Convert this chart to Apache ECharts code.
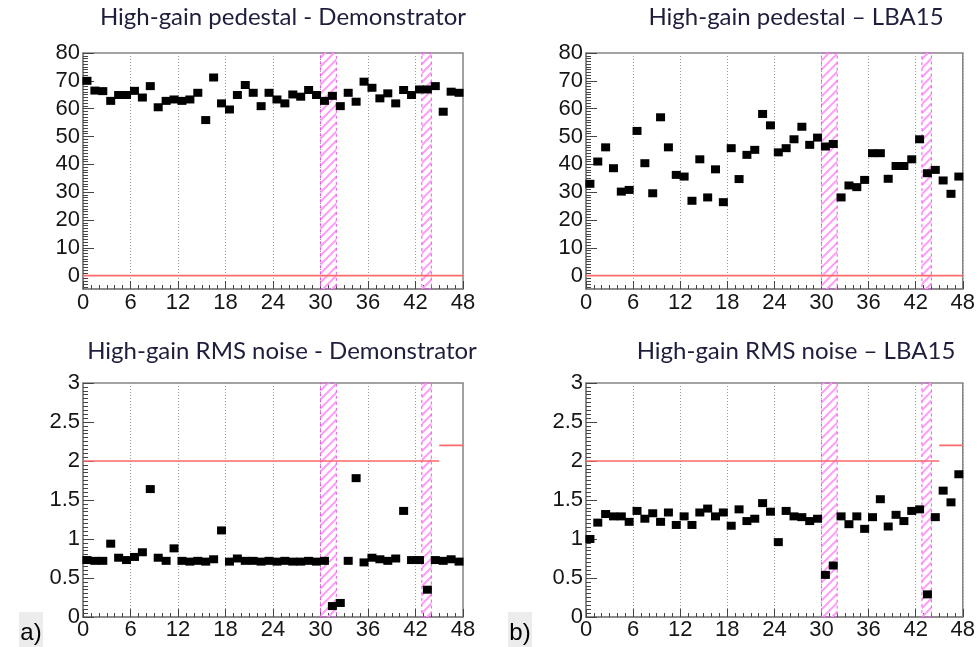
<!DOCTYPE html>
<html><head><meta charset="utf-8">
<script src="https://cdn.jsdelivr.net/npm/echarts@6/dist/echarts.min.js"></script>
<style>html,body{margin:0;padding:0;background:#fff}#c{width:978px;height:647px}</style>
</head><body><div id="c"></div>
<script>
// ---- data (channel 0..47, plotted at bin centres) ----
const demoPedestal = [70, 66.5, 66.3, 62.8, 64.9, 64.9, 66.4, 64, 68.1, 60.5, 62.8, 63.3, 62.8, 63.3, 65.7, 55.9, 71.2, 61.9, 59.7, 64.9, 68.5, 65.7, 60.9, 65.7, 63.3, 61.9, 65.1, 64.3, 66.7, 64.9, 62.8, 64.6, 60.9, 65.7, 62.5, 69.7, 67.5, 63.7, 65.5, 61.9, 66.7, 64.9, 66.9, 66.9, 68.1, 58.9, 66.1, 65.7];
const lbaPedestal = [33, 41, 46.1, 38.6, 30.2, 30.8, 52, 40.4, 29.6, 56.9, 46.1, 36.2, 35.6, 26.9, 41.8, 28.1, 38.2, 26.4, 45.8, 34.7, 43.4, 45.2, 58.1, 54, 44.3, 45.8, 49, 53.5, 47, 49.6, 46.4, 47.3, 28.1, 32.4, 31.8, 34.4, 44, 44, 34.8, 39.4, 39.4, 41.8, 49, 36.8, 38, 34.2, 29.4, 35.6];
const demoNoise = [0.73, 0.72, 0.72, 0.94, 0.76, 0.73, 0.77, 0.83, 1.64, 0.76, 0.72, 0.88, 0.72, 0.71, 0.72, 0.71, 0.74, 1.11, 0.71, 0.75, 0.72, 0.72, 0.71, 0.72, 0.71, 0.72, 0.71, 0.71, 0.72, 0.71, 0.72, 0.14, 0.18, 0.72, 1.78, 0.70, 0.76, 0.74, 0.72, 0.75, 1.36, 0.73, 0.73, 0.35, 0.73, 0.72, 0.74, 0.71];
const lbaNoise = [1.00, 1.21, 1.32, 1.29, 1.29, 1.22, 1.36, 1.26, 1.33, 1.22, 1.34, 1.18, 1.29, 1.18, 1.34, 1.39, 1.29, 1.34, 1.17, 1.38, 1.23, 1.26, 1.46, 1.35, 0.96, 1.36, 1.29, 1.28, 1.23, 1.26, 0.54, 0.66, 1.29, 1.19, 1.29, 1.13, 1.28, 1.51, 1.16, 1.31, 1.23, 1.36, 1.38, 0.29, 1.28, 1.62, 1.47, 1.83];

const channelTicks = [0, 6, 12, 18, 24, 30, 36, 42, 48];
const pedestalTicks = [0, 10, 20, 30, 40, 50, 60, 70, 80];
const noiseTicks = [0, 0.5, 1, 1.5, 2, 2.5, 3];
const pedestalLimit = [[0, 48, 0]];
const noiseLimit = [[0, 45, 2], [45, 48, 2.2]];
const maskedBands = [[30, 32], [42.8, 44]];
const titles = ['High-gain pedestal - Demonstrator', 'High-gain pedestal \u2013 LBA15', 'High-gain RMS noise - Demonstrator', 'High-gain RMS noise \u2013 LBA15'];
const tags = ['a)', 'b)'];

// ---- layout ----
const boxes = [
  {left: 83, top: 53, width: 380, height: 236},
  {left: 586, top: 53, width: 377, height: 236},
  {left: 83, top: 383, width: 380, height: 234},
  {left: 586, top: 383, width: 377, height: 234}
];
const titlePos = [[283, 17], [796, 17], [282, 351], [796, 351]];
const tagPos = [[19, 612], [508, 612]];

const panels = [
  {data: demoPedestal, min: -4.8, max: 80, ticks: pedestalTicks, minor: 1, limit: pedestalLimit},
  {data: lbaPedestal, min: -4.8, max: 80, ticks: pedestalTicks, minor: 1, limit: pedestalLimit},
  {data: demoNoise, min: 0, max: 3, ticks: noiseTicks, minor: 0.05, limit: noiseLimit},
  {data: lbaNoise, min: 0, max: 3, ticks: noiseTicks, minor: 0.05, limit: noiseLimit}
];

function range(a, b, s) { const out = []; const n = Math.round((b - a) / s); for (let k = 0; k <= n; k++) out.push(+(a + k * s).toFixed(4)); return out; }

function hatchCanvas() {
  const c = document.createElement('canvas');
  c.width = 9; c.height = 9;
  const g = c.getContext('2d');
  g.strokeStyle = '#ff9ef8';
  g.lineWidth = 2;
  g.beginPath();
  g.moveTo(-1, 10); g.lineTo(10, -1);
  g.moveTo(-3, 3); g.lineTo(3, -3);
  g.moveTo(6, 12); g.lineTo(12, 6);
  g.stroke();
  return c;
}
const hatch = {image: hatchCanvas(), repeat: 'repeat'};

const labelFont = {fontFamily: '"Liberation Sans", Arimo, sans-serif', fontSize: 22, color: '#161616'};
const frameColor = '#858585';

const grid = [], xAxis = [], yAxis = [], series = [];
panels.forEach((p, i) => {
  grid.push(Object.assign({show: true, borderColor: frameColor, borderWidth: 1.5, backgroundColor: 'transparent'}, boxes[i]));
  // main x axis
  xAxis.push({
    type: 'value', gridIndex: i, min: 0, max: 48, interval: 6, position: 'bottom',
    axisLine: {show: true, onZero: false, lineStyle: {color: frameColor, width: 1.5}},
    axisTick: {show: true, inside: true, length: 8, lineStyle: {color: '#444'}, customValues: channelTicks},
    axisLabel: Object.assign({show: true, margin: i < 2 ? 3 : 2, customValues: channelTicks}, labelFont),
    splitLine: {show: true, lineStyle: {color: '#9a9a9a', type: [1, 2], width: 1}}
  });
  // minor x ticks
  xAxis.push({
    type: 'value', gridIndex: i, min: 0, max: 48, position: 'bottom',
    axisLine: {show: false, onZero: false}, axisLabel: {show: false}, splitLine: {show: false},
    axisTick: {show: true, inside: true, length: 4, lineStyle: {color: '#444'}, customValues: range(0, 48, 1)}
  });
  // main y axis
  yAxis.push({
    type: 'value', gridIndex: i, min: p.min, max: p.max, position: 'left',
    axisLine: {show: true, onZero: false, lineStyle: {color: frameColor, width: 1.5}},
    axisTick: {show: true, inside: true, length: 11, lineStyle: {color: '#444'}, customValues: p.ticks},
    axisLabel: Object.assign({show: true, margin: 3, customValues: p.ticks}, labelFont),
    splitLine: {show: false}
  });
  // minor y ticks
  yAxis.push({
    type: 'value', gridIndex: i, min: p.min, max: p.max, position: 'left',
    axisLine: {show: false, onZero: false}, axisLabel: {show: false}, splitLine: {show: false},
    axisTick: {show: true, inside: true, length: 5, lineStyle: {color: '#444'}, customValues: range(p.min < 0 ? Math.ceil(p.min) : p.min, p.max, p.minor)}
  });
  // limit lines
  p.limit.forEach(([x0, x1, y]) => {
    series.push({
      type: 'line', xAxisIndex: 2 * i, yAxisIndex: 2 * i, data: [[x0, y], [x1, y]],
      symbol: 'none', silent: true, lineStyle: {color: '#ff6a6a', width: 1.6}, z: 3
    });
  });
  // points + masked bands
  series.push({
    type: 'scatter', xAxisIndex: 2 * i, yAxisIndex: 2 * i,
    data: p.data.map((v, ch) => [ch + 0.5, v]),
    symbol: 'rect', symbolSize: [9, 8], itemStyle: {color: '#000', opacity: 1}, z: 4,
    markArea: {
      silent: true,
      itemStyle: {color: hatch, borderColor: '#e55ae5', borderWidth: 1, borderType: [3, 3]},
      data: maskedBands.map(([a, b]) => [{xAxis: a}, {xAxis: b}])
    }
  });
});

const graphic = [];
titles.forEach((t, i) => {
  graphic.push({type: 'text', x: titlePos[i][0], y: titlePos[i][1],
    style: {text: t, fill: '#1e1e3c', font: '24px Lato', align: 'center', verticalAlign: 'middle'}});
});
tags.forEach((t, i) => {
  graphic.push({type: 'rect', shape: {x: tagPos[i][0], y: tagPos[i][1], width: 24, height: 35}, style: {fill: '#ececec'}});
  graphic.push({type: 'text', x: tagPos[i][0] + 12, y: tagPos[i][1] + 21,
    style: {text: t, fill: '#000', font: '24px "Liberation Sans"', align: 'center', verticalAlign: 'middle'}});
});

const chart = echarts.init(document.getElementById('c'), null, {renderer: 'canvas'});
chart.setOption({animation: false, backgroundColor: '#fff', grid, xAxis, yAxis, series, graphic});
</script></body></html>
